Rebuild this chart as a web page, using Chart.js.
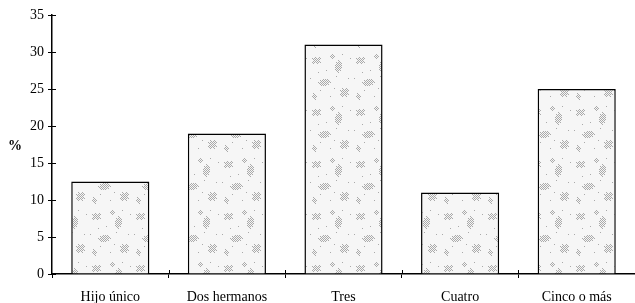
<!DOCTYPE html>
<html><head><meta charset="utf-8">
<script src="https://cdn.jsdelivr.net/npm/chart.js@4/dist/chart.umd.min.js"></script>
<style>html,body{margin:0;padding:0;background:#fff}#w{width:635px;height:303px}</style>
</head><body><div id="w"><canvas id="c"></canvas></div>
<script>
const categories = ["Hijo único", "Dos hermanos", "Tres", "Cuatro", "Cinco o más"];
const percentValues = [12.5, 19, 31, 11, 25];
const yTicks = [0, 5, 10, 15, 20, 25, 30, 35];
const yTitle = "%";

function makePattern() {
  const W = 44, H = 52;
  const p = document.createElement('canvas');
  p.width = W; p.height = H;
  const g = p.getContext('2d');
  g.fillStyle = '#f6f6f6'; g.fillRect(0, 0, W, H);
  g.fillStyle = '#aaaaaa';
  // irregular stippled blotches: [cx, cy, rx, ry]
  const blobs = [[8,8,5,4],[30,14,4,6],[16,30,6,4],[36,40,5,5],[6,44,3,4],[24,4,3,2]];
  blobs.forEach(([cx, cy, rx, ry]) => {
    for (let dx = -rx; dx <= rx; dx++) for (let dy = -ry; dy <= ry; dy++) {
      const d = (dx*dx)/(rx*rx) + (dy*dy)/(ry*ry);
      if (d <= 1 && ((dx + dy) & 1) === 0 && !(d > 0.6 && ((dx * 3 + dy * 5) % 4 === 0))) {
        g.fillRect((cx + dx + W) % W, (cy + dy + H) % H, 1, 1);
      }
    }
  });
  const dots = [[18,18],[40,26],[2,26],[22,44],[12,38],[34,2],[28,24],[42,6],[10,20],[26,36]];
  dots.forEach(([x,y]) => g.fillRect(x, y, 1, 1));
  return g.createPattern(p, 'repeat');
}

const yTitlePlugin = {
  id: 'yTitle',
  afterDraw(chart) {
    const ctx = chart.ctx, y = chart.scales.y;
    ctx.save();
    ctx.font = 'bold 14px "Liberation Serif"';
    ctx.fillStyle = '#000';
    ctx.textAlign = 'center'; ctx.textBaseline = 'middle';
    ctx.fillText(yTitle, 15, y.getPixelForValue(17.5) + 2);
    ctx.strokeStyle = '#000'; ctx.lineWidth = 1;
    ctx.beginPath();
    yTicks.forEach(v => { const py = Math.round(y.getPixelForValue(v)) + 0.5; ctx.moveTo(chart.chartArea.left, py); ctx.lineTo(chart.chartArea.left + 4, py); });
    const x = chart.scales.x;
    for (let i = 1; i < categories.length; i++) {
      const px = Math.round((x.getPixelForValue(i - 1) + x.getPixelForValue(i)) / 2) + 0.5;
      ctx.moveTo(px, chart.chartArea.bottom); ctx.lineTo(px, chart.chartArea.bottom - 4);
    }
    ctx.stroke();
    ctx.restore();
  }
};

new Chart(document.getElementById('c'), {
  type: 'bar',
  data: {
    labels: categories,
    datasets: [{
      data: percentValues,
      backgroundColor: makePattern(),
      borderColor: '#000',
      borderWidth: 1.5,
      categoryPercentage: 0.67,
      barPercentage: 1
    }]
  },
  options: {
    responsive: true, maintainAspectRatio: false, animation: false,
    layout: { padding: { top: 15, right: 0, left: 0, bottom: 0 } },
    plugins: { legend: { display: false }, tooltip: { enabled: false } },
    scales: {
      x: {
        grid: { display: true, drawOnChartArea: false, tickLength: 4, color: '#000', offset: true },
        border: { color: '#000', width: 1.5 },
        ticks: { color: '#000', font: { family: '"Liberation Serif"', size: 14 }, maxRotation: 0, padding: 11 },
        afterFit(s) { s.height = 29; }
      },
      y: {
        min: 0, max: 35,
        afterBuildTicks(s) { s.ticks = yTicks.map(v => ({ value: v })); },
        grid: { display: true, drawOnChartArea: false, tickLength: 4, color: '#000' },
        border: { color: '#000', width: 1.5 },
        ticks: { color: '#000', font: { family: '"Liberation Serif"', size: 14 }, padding: 4 },
        afterFit(s) { s.width = 52; }
      }
    }
  },
  plugins: [yTitlePlugin]
});
</script></body></html>
